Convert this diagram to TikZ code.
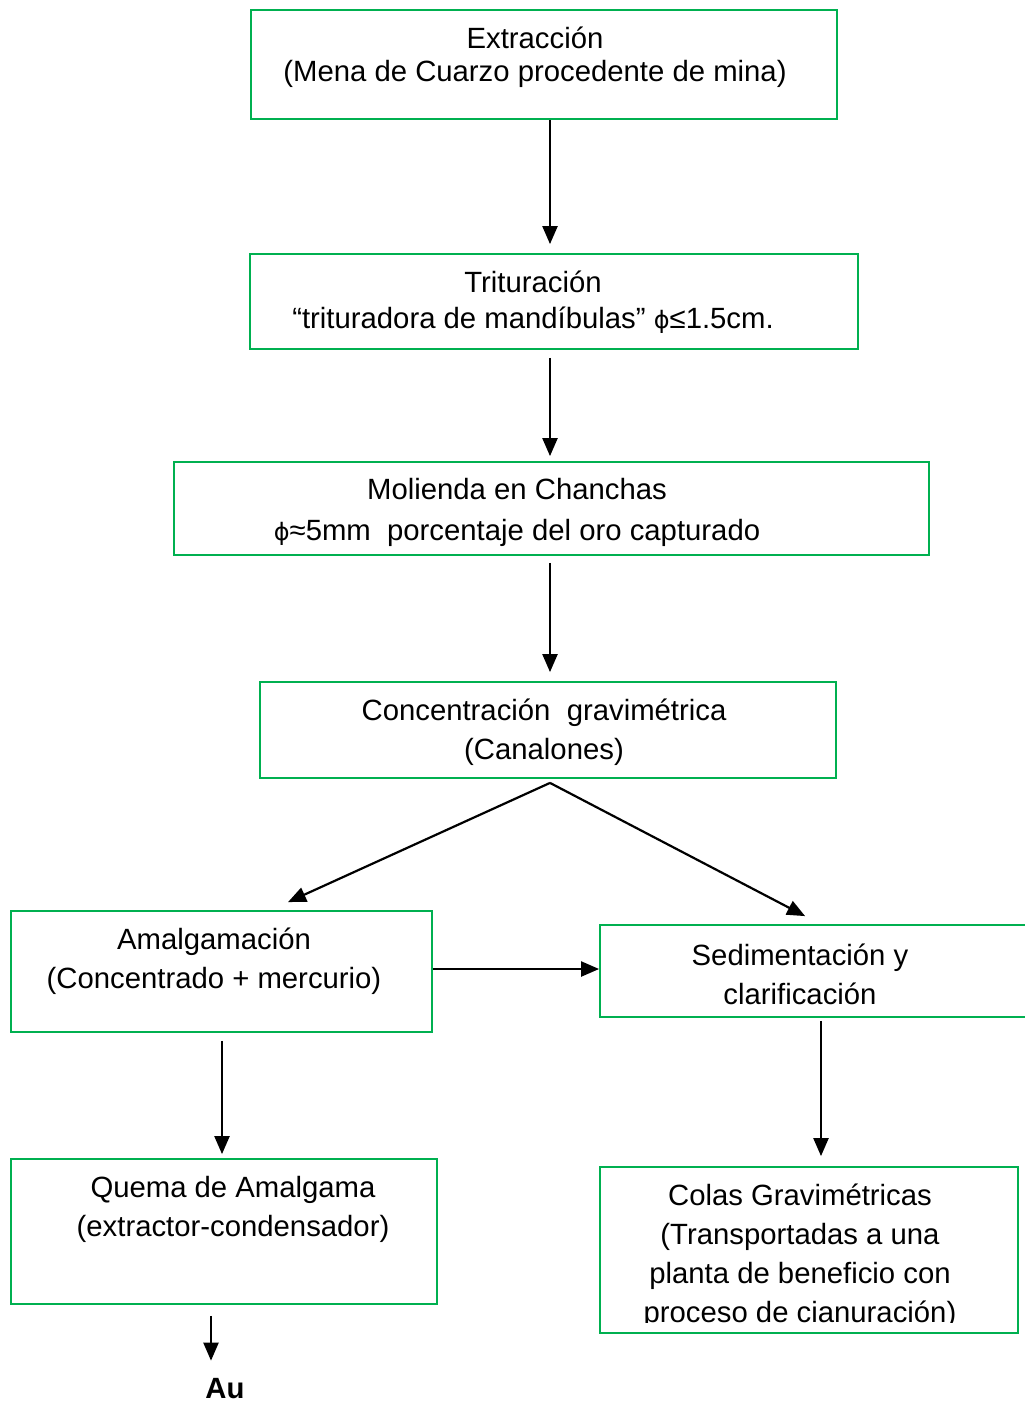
\documentclass[tikz,border=0pt]{standalone}
\usepackage{fontspec}
\setmainfont{Liberation Sans}
\newfontfamily\phifont{DejaVu Sans}
\usetikzlibrary{arrows.meta,calc}
\definecolor{boxgreen}{HTML}{00B050}
\newcommand{\fph}{{\phifont\fontsize{24}{24}\selectfont ϕ}}
\tikzset{
  box/.style={draw=boxgreen, line width=1.8pt, rectangle, inner sep=0pt},
  txt/.style={align=center, inner sep=0pt, font=\fontsize{29.3}{39}\selectfont},
  arr/.style={draw=black, line width=2.2pt, -{Triangle[length=18pt,width=15pt]}}
}
\begin{document}
\begin{tikzpicture}[x=1pt,y=-1pt]
\useasboundingbox (0,0) rectangle (1025,1403);
% boxes
\node[box, minimum width=586pt, minimum height=109pt] (b1) at (544,64.5) {};
\node[box, minimum width=608pt, minimum height=95pt] (b2) at (554,301.5) {};
\node[box, minimum width=755pt, minimum height=93pt] (b3) at (551.5,508.5) {};
\node[box, minimum width=576pt, minimum height=96pt] (b4) at (548,730) {};
\node[box, minimum width=421pt, minimum height=121pt] (b5) at (221.5,971.5) {};
\node[box, minimum width=450pt, minimum height=92pt] (b6) at (825,971) {};
\node[box, minimum width=426pt, minimum height=145pt] (b7) at (224,1231.5) {};
\node[box, minimum width=418pt, minimum height=166pt] (b8) at (809,1250) {};
% texts
\node[txt, font=\fontsize{29.3}{33}\selectfont] (t1) at (535,57) {Extracción\\(Mena de Cuarzo procedente de mina)};
\node[txt, font=\fontsize{29.3}{36}\selectfont] (t2) at (533,302) {Trituración\\“trituradora de mandíbulas” \fph≤1.5cm.};
\node[txt, font=\fontsize{29.3}{41}\selectfont] (t3) at (517,512) {Molienda en Chanchas\\\fph≈5mm\ \ porcentaje del oro capturado};
\node[txt] (t4) at (544,732) {Concentración\ \ gravimétrica\\(Canalones)};
\node[txt] (t5) at (214,961) {Amalgamación\\(Concentrado + mercurio)};
\node[txt] (t6) at (800,974) {Sedimentación y\\clarificación};
\node[txt] (t7) at (233,1209) {Quema de Amalgama\\(extractor-condensador)};
\begin{scope}
\clip (600,1167) rectangle (1018,1322);
\node[txt] (t8) at (800,1256) {Colas Gravimétricas\\(Transportadas a una\\planta de beneficio con\\proceso de cianuración)};
\end{scope}
\node[inner sep=0pt, anchor=base, font=\bfseries\fontsize{29.3}{35}\selectfont] (au) at (225,1398) {Au};
% arrows
\draw[arr] ([xshift=6pt]b1.south) -- ([xshift=-4pt,yshift=9pt]b2.north);
\draw[arr] ([xshift=-4pt,yshift=-8pt]b2.south) -- ([xshift=-1.5pt,yshift=5pt]b3.north);
\draw[arr] ([xshift=-1.5pt,yshift=-7pt]b3.south) -- ([xshift=2pt,yshift=9pt]b4.north);
\draw[arr] ([xshift=2pt,yshift=-4pt]b4.south) -- ([xshift=66.5pt,yshift=8pt]b5.north);
\draw[arr] ([xshift=2pt,yshift=-4pt]b4.south) -- ([xshift=206pt,yshift=8pt]b6.north west);
\draw[arr] ([yshift=2.5pt]b5.east) -- ([yshift=2.5pt]b5.east -| b6.west);
\draw[arr] ([xshift=0.5pt,yshift=-8pt]b5.south) -- ([xshift=-2pt,yshift=4pt]b7.north);
\draw[arr] ([xshift=-4pt,yshift=-3pt]b6.south) -- ([xshift=12pt,yshift=10pt]b8.north);
\draw[arr] ([xshift=-13pt,yshift=-11pt]b7.south) -- ([xshift=-14pt,yshift=17pt]au.north);
\end{tikzpicture}
\end{document}
